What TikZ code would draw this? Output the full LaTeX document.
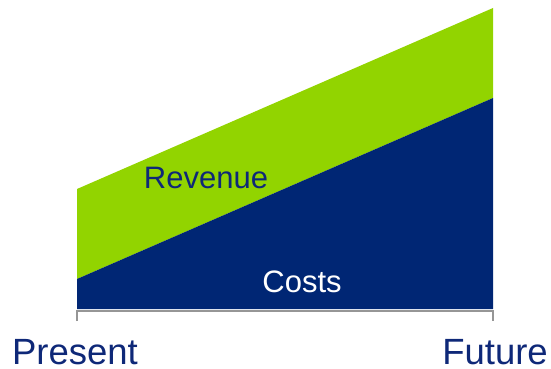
\documentclass[tikz,border=0pt]{standalone}
\usepackage{fontspec}
\setmainfont{Liberation Sans}
\usetikzlibrary{positioning}
\definecolor{revgreen}{RGB}{146,212,0}
\definecolor{costblue}{RGB}{0,38,116}
\definecolor{labelblue}{RGB}{14,40,120}
\definecolor{axisgrey}{RGB}{150,150,150}

\begin{document}
\begin{tikzpicture}[
   x = 1pt, y = -1pt,
   axislabel/.style = {anchor=base, inner sep=0pt, text=labelblue, font=\fontsize{36.5}{36.5}\selectfont},
   arealabel/.style = {anchor=base, inner sep=0pt, font=\fontsize{31}{31}\selectfont},
   axisline/.style = {draw=axisgrey, line width=1.5pt}]
   \useasboundingbox (0,0) rectangle (551,369);

   \coordinate (now bottom) at (77,309);
   \coordinate (now cost)   at (77,279);
   \coordinate (now rev)    at (77,189);
   \coordinate (fut bottom) at (493,309);
   \coordinate (fut cost)   at (493,98);
   \coordinate (fut rev)    at (493,8);

   \fill[revgreen] (now cost) -- (now rev) -- (fut rev) -- (fut cost) -- cycle;
   \fill[costblue] (now bottom) -- (now cost) -- (fut cost) -- (fut bottom) -- cycle;

   % axis with end ticks
   \coordinate (tick now) at (77,321);
   \coordinate (axis now) at (77,311);
   \coordinate (axis fut) at (493,311);
   \coordinate (tick fut) at (493,321);
   \draw[axisline] (tick now) -- (axis now) -- (axis fut) -- (tick fut);

   \node[arealabel, text=labelblue] (revenue) at (206,188) {Revenue};
   \node[arealabel, text=white]     (costs)   at (302,292) {Costs};

   \node[axislabel] (present) at (75,364) {Present};
   \node[axislabel] (future)  at (495,364) {Future};
\end{tikzpicture}
\end{document}
